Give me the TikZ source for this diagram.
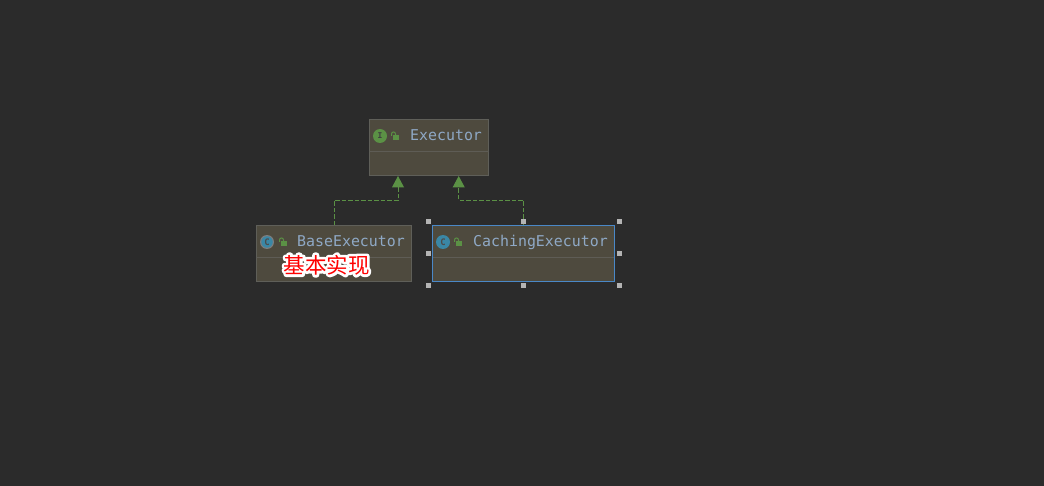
\documentclass[tikz,border=0pt]{standalone}
\usepackage{fontspec}
\setmainfont{DejaVu Sans Mono}
\newfontfamily\cjk{Noto Sans CJK SC}
\usetikzlibrary{arrows.meta}
\definecolor{bgc}{HTML}{2B2B2B}
\definecolor{boxc}{HTML}{4E4A3E}
\definecolor{edgec}{HTML}{5F5F59}
\definecolor{sepc}{HTML}{5E5C55}
\definecolor{selc}{HTML}{4A88C7}
\definecolor{greenc}{HTML}{5B9145}
\definecolor{titlec}{HTML}{8FA9C6}
\definecolor{teal}{HTML}{3A87A6}
\definecolor{handlec}{HTML}{B4B4B4}
\newcommand{\halo}[1]{\special{pdf:code 1 j 1 J}\rlap{\color{white}\addfontfeature{FakeBold=25}#1}#1}
\tikzset{
  x=1pt,y=-1pt,
  classbox/.style={draw=edgec,fill=boxc,line width=1pt,inner sep=0pt,outer sep=0pt,minimum height=56pt},
  selected/.style={classbox,draw=selc,line width=1pt},
  title/.style={anchor=base west,inner sep=0pt,text=titlec,font=\fontsize{14.9}{16}\selectfont},
  iconI/.style={circle,fill=greenc,minimum size=14pt,inner sep=0pt,text=black!75,font=\fontsize{8}{9}\selectfont\bfseries},
  iconC/.style={circle,fill=teal,minimum size=14pt,inner sep=0pt,text=black!70,font=\fontsize{9}{9}\selectfont\bfseries},
  dep/.style={draw=greenc,line width=1pt,dash pattern=on 4.5pt off 2pt,-{Triangle[length=11.5pt,width=12pt,fill=greenc,color=greenc]}},
  handle/.style={draw=none,fill=handlec,minimum size=5pt,inner sep=0pt},
  sepline/.style={draw=sepc,line width=1pt},
  note/.style={inner sep=0pt,text=red,font=\cjk\fontsize{21.5}{24}\selectfont}
}
\newcommand{\lockicon}[2]{%
  \fill[greenc] (#1-2,#2-1) rectangle (#1+4,#2+4);
  \draw[greenc,line width=1pt] (#1-3.5,#2) -- (#1-3.5,#2-2) .. controls (#1-3.5,#2-4.7) and (#1+0.5,#2-4.7) .. (#1+0.5,#2-2) -- (#1+0.5,#2-1);
}
\begin{document}
\begin{tikzpicture}
\useasboundingbox (0,0) rectangle (1044,486);
\fill[bgc] (0,0) rectangle (1044,486);

% class boxes
\node[classbox,minimum width=119pt] (exec) at (429,147.5) {};
\node[classbox,minimum width=155pt] (base) at (334,253.5) {};
\node[selected,minimum width=182pt] (cach) at (523.5,253.5) {};

% separators
\draw[sepline] (369.5,151.5) -- (488.5,151.5);
\draw[sepline] (256.5,257.5) -- (411.5,257.5);
\draw[sepline] (433,257.5) -- (614,257.5);

% arrowhead targets
\coordinate (t1) at (398,176);
\coordinate (t2) at (458.7,176);

% connectors
\draw[dep] (base.north) -- ++(0,-25) -| (t1);
\draw[dep] (cach.north) -- ++(0,-25) -| (t2);

% icons
\node[iconI] (iexec) at (380,136) {I};
\node[circle,fill=handlec!60!bgc,minimum size=14pt,inner sep=0pt] (ringb) at (267,242) {};
\node[circle,fill=teal,minimum size=11.5pt,inner sep=0pt,text=black!70,font=\fontsize{9}{9}\selectfont\bfseries] (ibase) at (267,242) {C};
\node[iconC] (icach) at (443,242) {C};
\lockicon{395}{136}
\lockicon{283}{242}
\lockicon{458}{242}

% titles
\node[title] (texec) at (410,140.7) {Executor};
\node[title] (tbase) at (297,246.7) {BaseExecutor};
\node[title] (tcach) at (473,246.7) {CachingExecutor};

% selection handles
\node[handle] (h1) at (428.5,222) {};
\node[handle] (h2) at (523.5,222) {};
\node[handle] (h3) at (619,222) {};
\node[handle] (h4) at (428.5,254) {};
\node[handle] (h5) at (619,254) {};
\node[handle] (h6) at (428.5,286) {};
\node[handle] (h7) at (523.5,286) {};
\node[handle] (h8) at (619,286) {};

% annotation
\node[note] (lbl) at (326.5,265) {\halo{基本实现}};
\end{tikzpicture}
\end{document}
